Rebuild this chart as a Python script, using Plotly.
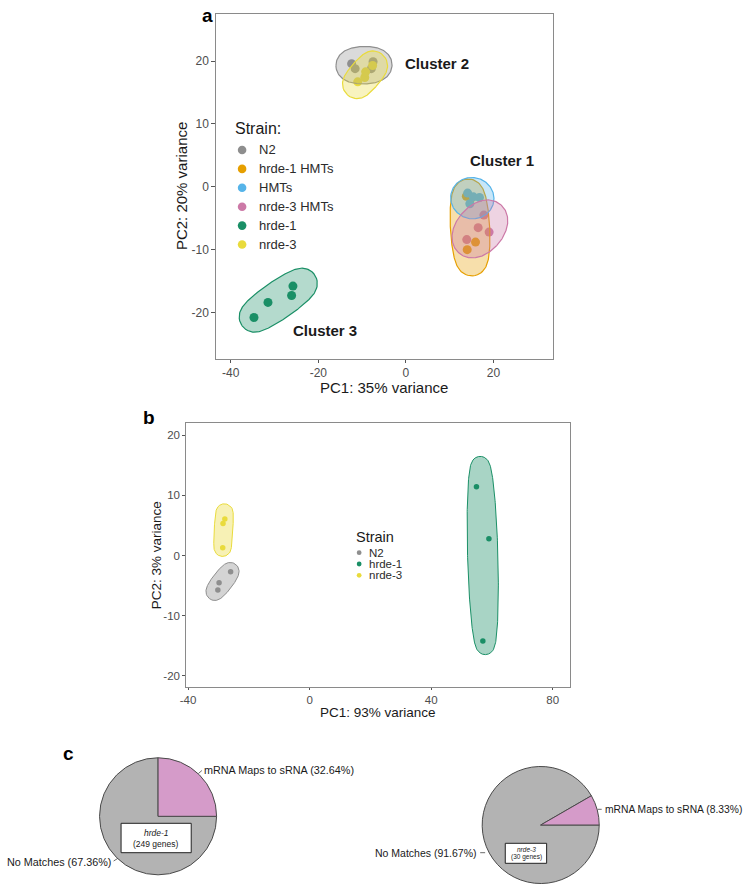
import numpy as np
import plotly.graph_objects as go

W, H = 750, 890
FONT = "Liberation Sans, Arial, sans-serif"

# ---------------- data: panel a (PCA, 6 strains) ----------------
a_strains = ["N2", "hrde-1 HMTs", "HMTs", "nrde-3 HMTs", "hrde-1", "nrde-3"]
a_n2_pc1 = [-12.4, -11.6, -7.5, -7.9]
a_n2_pc2 = [19.6, 18.8, 19.9, 18.8]
a_hrde1hmt_pc1 = [13.8, 14.9, 14.0, 15.9]
a_hrde1hmt_pc2 = [-1.5, -1.8, -10.0, -8.8]
a_hmt_pc1 = [14.1, 16.8, 14.6, 15.4]
a_hmt_pc2 = [-1.0, -1.7, -2.7, -1.6]
a_nrde3hmt_pc1 = [17.8, 16.5, 19.0, 13.9]
a_nrde3hmt_pc2 = [-4.5, -6.5, -7.2, -8.4]
a_hrde1_pc1 = [-34.7, -31.5, -26.1, -25.8]
a_hrde1_pc2 = [-20.8, -18.4, -17.3, -15.8]
a_nrde3_pc1 = [-11.0, -9.4, -9.2, -7.6]
a_nrde3_pc2 = [16.7, 17.4, 18.3, 19.3]
a_cluster_names = ["Cluster 1", "Cluster 2", "Cluster 3"]
a_cluster_pc1 = [21.9, 7.0, -18.4]
a_cluster_pc2 = [4.2, 19.7, -22.9]
a_xticks = [-40, -20, 0, 20]
a_xticklabels = ["-40", "-20", "0", "20"]
a_yticks = [-20, -10, 0, 10, 20]
a_yticklabels = ["-20", "-10", "0", "10", "20"]

# ---------------- data: panel b (PCA, 3 strains) ----------------
b_strains = ["N2", "hrde-1", "nrde-3"]
b_n2_pc1 = [-26.0, -29.8, -30.2]
b_n2_pc2 = [-2.7, -4.5, -5.7]
b_hrde1_pc1 = [54.9, 59.0, 57.0]
b_hrde1_pc2 = [11.45, 2.8, -14.2]
b_nrde3_pc1 = [-27.9, -28.5, -28.6]
b_nrde3_pc2 = [6.07, 5.35, 1.3]
b_xticks = [-40, 0, 40, 80]
b_xticklabels = ["-40", "0", "40", "80"]
b_yticks = [-20, -10, 0, 10, 20]
b_yticklabels = ["-20", "-10", "0", "10", "20"]

# ---------------- data: panel c (pies) ----------------
pie_labels = ["No Matches", "mRNA Maps to sRNA"]
pie_hrde1_values = [75.0, 25.0]        # slice sizes as drawn
pie_nrde3_values = [91.67, 8.33]
pie_hrde1_pct = ["67.36%", "32.64%"]
pie_nrde3_pct = ["91.67%", "8.33%"]
pie_hrde1_genes = 249
pie_nrde3_genes = 30

# ---------------- styles ----------------
COL = {"N2": "#8E8E8E", "hrde-1 HMTs": "#E69F00", "HMTs": "#56B4E9",
       "nrde-3 HMTs": "#CC79A7", "hrde-1": "#1A8F66", "nrde-3": "#E9DB3C"}


def rgba(hexc, a):
    h = hexc.lstrip("#")
    return "rgba(%d,%d,%d,%.3f)" % (int(h[0:2], 16), int(h[2:4], 16), int(h[4:6], 16), a)


def px2paper(x, y):
    return x / W, 1 - y / H


# panel geometry (pixels)
A_L, A_R, A_T, A_B = 212, 551, 14, 359
A_XR, A_YR = [-43.3, 33.5], [-27.4, 27.5]
B_L, B_R, B_T, B_B = 181.7, 568.3, 423.3, 687.3
B_XR, B_YR = [-40.6, 85.6], [-21.9, 22.0]


def mvee(P, tol=1e-9, it=5000):
    N, d = P.shape
    Q = np.vstack([P.T, np.ones(N)])
    u = np.ones(N) / N
    for _ in range(it):
        X = Q @ np.diag(u) @ Q.T
        M = np.einsum("ij,ji->i", Q.T @ np.linalg.inv(X), Q)
        j = int(np.argmax(M))
        mx = M[j]
        step = (mx - d - 1) / ((d + 1) * (mx - 1))
        nu = (1 - step) * u
        nu[j] += step
        if np.linalg.norm(nu - u) < tol:
            u = nu
            break
        u = nu
    c = P.T @ u
    A = np.linalg.inv(P.T @ np.diag(u) @ P - np.outer(c, c)) / d
    return A, c


def mark_ellipse(xs, ys, kx, ky, expand, n=240):
    P = np.column_stack([np.asarray(xs, float) * kx, np.asarray(ys, float) * ky])
    A, c = mvee(P)
    vals, vecs = np.linalg.eigh(A)
    a, b = 1 / np.sqrt(vals)
    t = np.linspace(0, 2 * np.pi, n)
    loc = np.vstack([a * np.cos(t), b * np.sin(t)])
    nrm = np.vstack([np.cos(t) / a, np.sin(t) / b])
    nrm /= np.linalg.norm(nrm, axis=0)
    pts = vecs @ (loc + expand * nrm) + c[:, None]
    return pts[0] / kx, pts[1] / ky


fig = go.Figure()

# ---------------- panel a ----------------
a_kx = (A_R - A_L) / (A_XR[1] - A_XR[0])
a_ky = (A_B - A_T) / (A_YR[1] - A_YR[0])
a_series = [("N2", a_n2_pc1, a_n2_pc2), ("hrde-1 HMTs", a_hrde1hmt_pc1, a_hrde1hmt_pc2),
            ("HMTs", a_hmt_pc1, a_hmt_pc2), ("nrde-3 HMTs", a_nrde3hmt_pc1, a_nrde3hmt_pc2),
            ("hrde-1", a_hrde1_pc1, a_hrde1_pc2), ("nrde-3", a_nrde3_pc1, a_nrde3_pc2)]
for name, xs, ys in a_series:
    fig.add_trace(go.Scatter(x=xs, y=ys, mode="markers", name=name, showlegend=False,
                             marker=dict(size=9, color=COL[name], line=dict(width=0)),
                             xaxis="x", yaxis="y"))
for name, xs, ys in a_series:
    ex, ey = mark_ellipse(xs, ys, a_kx, a_ky, 14.5)
    fig.add_trace(go.Scatter(x=ex, y=ey, mode="lines", fill="toself", showlegend=False,
                             fillcolor=rgba(COL[name], 0.33), hoverinfo="skip",
                             line=dict(color=COL[name], width=1.2), xaxis="x", yaxis="y"))

# ---------------- panel b ----------------
b_kx = (B_R - B_L) / (B_XR[1] - B_XR[0])
b_ky = (B_B - B_T) / (B_YR[1] - B_YR[0])
b_series = [("N2", b_n2_pc1, b_n2_pc2), ("hrde-1", b_hrde1_pc1, b_hrde1_pc2),
            ("nrde-3", b_nrde3_pc1, b_nrde3_pc2)]
for name, xs, ys in b_series:
    fig.add_trace(go.Scatter(x=xs, y=ys, mode="markers", name=name, showlegend=False,
                             marker=dict(size=5.5, color=COL[name], line=dict(width=0)),
                             xaxis="x2", yaxis="y2"))
for name, xs, ys in b_series:
    ex, ey = mark_ellipse(xs, ys, b_kx, b_ky, 8.5)
    fig.add_trace(go.Scatter(x=ex, y=ey, mode="lines", fill="toself", showlegend=False,
                             fillcolor=rgba(COL[name], 0.38), hoverinfo="skip",
                             line=dict(color=COL[name], width=1), xaxis="x2", yaxis="y2"))

# ---------------- panel c (pies) ----------------
PIE_COLORS = ["#B3B3B3", "#D59BC9"]


def pie_domain(cx, cy, r):
    return dict(x=[(cx - r) / W, (cx + r) / W], y=[1 - (cy + r) / H, 1 - (cy - r) / H])


for vals, (cx, cy) in [(pie_hrde1_values, (153.3, 816.3)), (pie_nrde3_values, (539, 825))]:
    fig.add_trace(go.Pie(values=vals, labels=pie_labels, sort=False,
                         direction="clockwise", rotation=90, textinfo="none",
                         hoverinfo="label+percent", showlegend=False,
                         marker=dict(colors=PIE_COLORS, line=dict(color="#4a4a4a", width=1)),
                         domain=pie_domain(cx, cy, 59)))


# ---------------- axes ----------------
def axis_style(domain, rng, tickvals, ticktext, fs, tl):
    return dict(domain=domain, range=rng, tickvals=tickvals, ticktext=ticktext,
                ticks="outside", ticklen=tl,
                tickwidth=1, tickcolor="#555555", showline=True, linecolor="#8a8a8a",
                linewidth=1, mirror=True, showgrid=False, zeroline=False,
                tickfont=dict(family=FONT, size=fs, color="#4D4D4D"), fixedrange=True)


layout = dict(
    width=W, height=H, margin=dict(l=0, r=0, t=0, b=0), paper_bgcolor="white",
    plot_bgcolor="white", showlegend=False, font=dict(family=FONT),
    xaxis=dict(axis_style([A_L / W, A_R / W], A_XR, a_xticks, a_xticklabels, 12, 3), anchor="y"),
    yaxis=dict(axis_style([1 - A_B / H, 1 - A_T / H], A_YR, a_yticks, a_yticklabels, 12, 4), anchor="x"),
    xaxis2=dict(axis_style([B_L / W, B_R / W], B_XR, b_xticks, b_xticklabels, 11.5, 2), anchor="y2"),
    yaxis2=dict(axis_style([1 - B_B / H, 1 - B_T / H], B_YR, b_yticks, b_yticklabels, 11.5, 3), anchor="x2"),
)
fig.update_layout(**layout)

ann = []
shapes = []


def text_px(x, y, s, size, xanchor="left", color="#1a1a1a", bold=False, angle=0):
    px, py = px2paper(x, y)
    ann.append(dict(x=px, y=py, xref="paper", yref="paper", text=("<b>%s</b>" % s) if bold else s,
                    showarrow=False, xanchor=xanchor, yanchor="middle", textangle=angle,
                    font=dict(family=FONT, size=size, color=color)))


# panel letters
text_px(196, 15, "a", 19, bold=True, color="#000")
text_px(136, 418, "b", 19, bold=True, color="#000")
text_px(55, 753, "c", 19, bold=True, color="#000")

# axis titles
text_px((A_L + A_R) / 2, 387.5, "PC1: 35% variance", 15, xanchor="center")
text_px(177, (A_T + A_B) / 2, "PC2: 20% variance", 15, xanchor="center", angle=-90)
text_px((B_L + B_R) / 2, 712, "PC1: 93% variance", 13.5, xanchor="center")
text_px(152, 555.5, "PC2: 3% variance", 13.5, xanchor="center", angle=-90)

# cluster labels (data coords)
for nm, cx, cy in zip(a_cluster_names, a_cluster_pc1, a_cluster_pc2):
    ann.append(dict(x=cx, y=cy, xref="x", yref="y", text="<b>%s</b>" % nm, showarrow=False,
                    xanchor="center", yanchor="middle",
                    font=dict(family=FONT, size=15, color="#1a1a1a")))


def legend_dot(x, y, r, color):
    px, py = px2paper(x, y)
    shapes.append(dict(type="circle", xref="paper", yref="paper", xsizemode="pixel",
                       ysizemode="pixel", xanchor=px, yanchor=py, x0=-r, x1=r, y0=-r, y1=r,
                       fillcolor=color, line=dict(width=0), layer="above"))


# legend a
text_px(229, 128, "Strain:", 16)
for i, nm in enumerate(a_strains):
    yy = 150 + i * 18.9
    legend_dot(238, yy, 4.3, COL[nm])
    text_px(253, yy, nm, 13, color="#2b2b2b")

# legend b
text_px(351, 536.7, "Strain", 14.5)
for i, nm in enumerate(b_strains):
    yy = 552.7 + i * 11.3
    legend_dot(356, yy, 2.4, COL[nm])
    text_px(363.5, yy, nm, 11.5, color="#2b2b2b")


# pie labels and boxes
def line_px(x0, y0, x1, y1):
    a0, b0 = px2paper(x0, y0)
    a1, b1 = px2paper(x1, y1)
    shapes.append(dict(type="line", xref="paper", yref="paper", x0=a0, y0=b0, x1=a1, y1=b1,
                       line=dict(color="#444", width=0.8), layer="above"))


def box_px(x0, y0, x1, y1):
    a0, b0 = px2paper(x0, y0)
    a1, b1 = px2paper(x1, y1)
    shapes.append(dict(type="rect", xref="paper", yref="paper", x0=a0, y0=b1, x1=a1, y1=b0,
                       fillcolor="white", line=dict(color="#222", width=1), layer="above"))


text_px(197.5, 770, "%s (%s)" % (pie_labels[1], pie_hrde1_pct[1]), 10.8)
line_px(194, 773.5, 197.5, 770.5)
text_px(108, 861.7, "%s (%s)" % (pie_labels[0], pie_hrde1_pct[0]), 10.8, xanchor="right")
line_px(108.5, 861, 112.5, 858.5)
box_px(116, 823.3, 186.7, 852.7)
text_px(151.3, 833, "<i>hrde-1</i>", 8.5, xanchor="center")
text_px(151.3, 844.3, "(%d genes)" % pie_hrde1_genes, 8.5, xanchor="center")

text_px(601.5, 809.3, "%s (%s)" % (pie_labels[1], pie_nrde3_pct[1]), 10.3)
line_px(596.5, 809.3, 600.5, 809.3)
text_px(477.3, 852.7, "%s (%s)" % (pie_labels[0], pie_nrde3_pct[0]), 10.5, xanchor="right")
line_px(478, 852.7, 483, 852.7)
box_px(503.3, 843.3, 545, 863.3)
text_px(524.2, 849.5, "<i>nrde-3</i>", 6.5, xanchor="center")
text_px(524.2, 857.3, "(%d genes)" % pie_nrde3_genes, 6.5, xanchor="center")

fig.update_layout(annotations=ann, shapes=shapes)
fig.write_html("out.html")
